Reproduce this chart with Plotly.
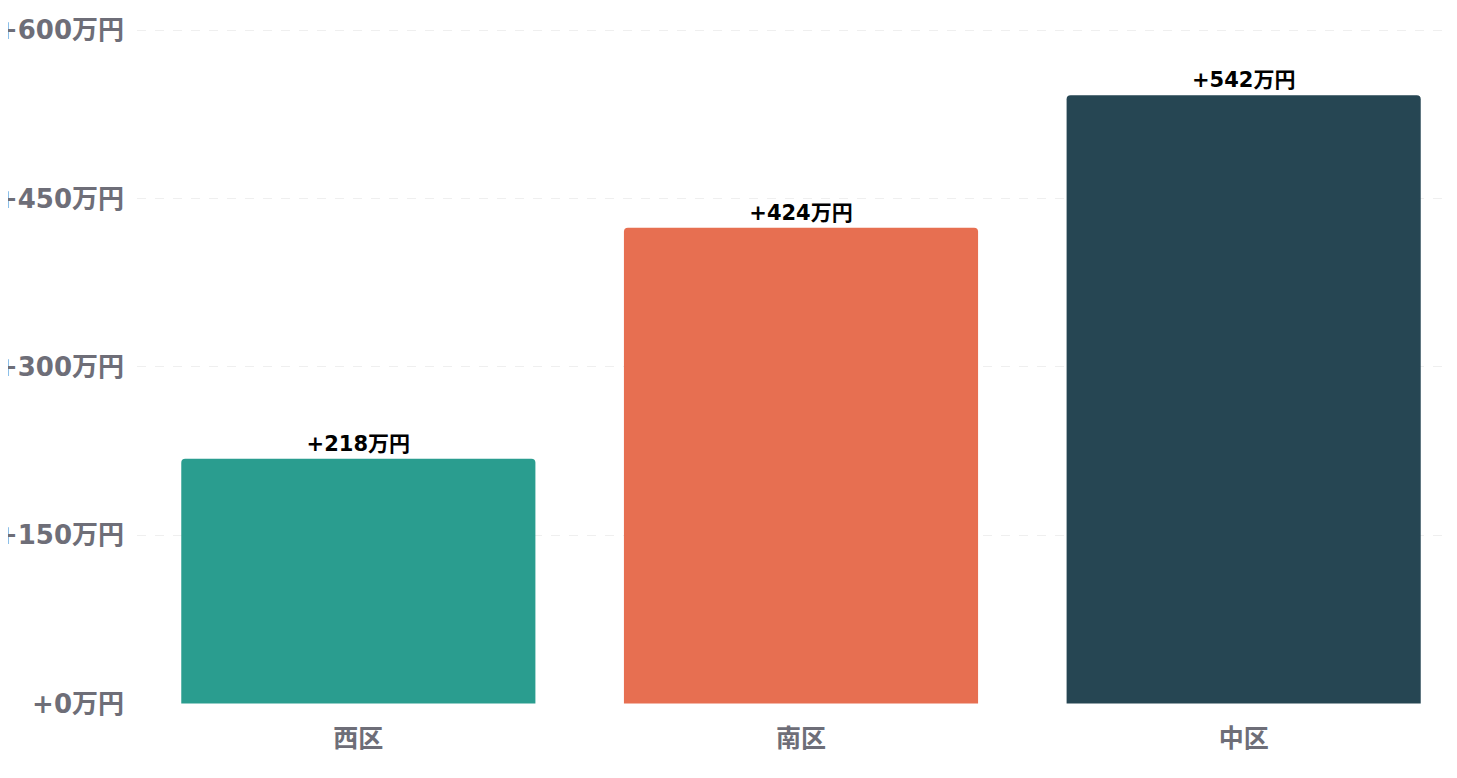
import plotly.graph_objects as go

# données
districts = ['西区', '南区', '中区']
hausse = [218, 424, 542]
couleurs = ['#2a9d8f', '#e76f51', '#264653']

tick_vals = [0, 150, 300, 450, 600]
tick_text = ['+0万円', '+150万円', '+300万円', '+450万円', '+600万円']

labels = [f'+{v}万円' for v in hausse]

police = 'DejaVu Sans, Noto Sans CJK JP, sans-serif'

fig = go.Figure()
fig.add_trace(go.Bar(
    x=districts,
    y=hausse,
    marker=dict(color=couleurs, line=dict(width=0)),
    text=labels,
    textposition='outside',
    textfont=dict(family=police, size=21, color='#000000', weight='bold'),
    cliponaxis=False,
    width=0.8,
    hoverinfo='skip'
))

fig.update_layout(
    width=1457,
    height=778,
    margin=dict(l=129, r=0, t=20, b=82),
    plot_bgcolor='white',
    paper_bgcolor='white',
    showlegend=False,
    barcornerradius=4,
    font=dict(family=police),
    xaxis=dict(
        range=[-0.5, 2.5],
        showgrid=False,
        showline=False,
        zeroline=False,
        tickfont=dict(family=police, size=25, color='#6e6e78', weight='bold'),
        ticklabelstandoff=17,
    ),
    yaxis=dict(
        range=[-0.5, 602],
        tickvals=tick_vals,
        ticktext=tick_text,
        showgrid=True,
        gridcolor='#efefef',
        griddash='dash',
        gridwidth=1,
        zeroline=False,
        showline=False,
        tickfont=dict(family=police, size=26, color='#6e6e78', weight='bold'),
        ticklabelstandoff=12,
        automargin=False,
    ),
)

fig.write_html('out.html')
